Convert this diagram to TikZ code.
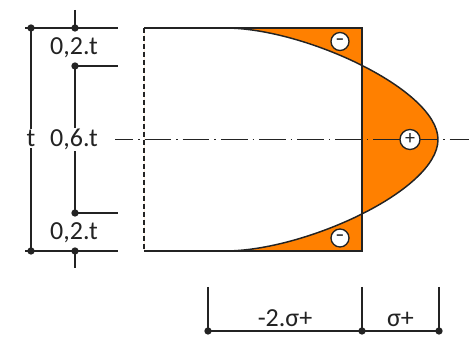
\documentclass[tikz,border=0pt]{standalone}
\usepackage{fontspec}
\setmainfont{Carlito}
\definecolor{stressorange}{RGB}{255,128,0}
\definecolor{linegray}{RGB}{35,35,35}
\begin{document}
\begin{tikzpicture}[x=0.75pt,y=-0.75pt,
  dimline/.style={draw=linegray, line width=0.9pt},
  dotmark/.style={circle, fill=linegray, inner sep=0pt, minimum size=5.5pt},
  dimlabel/.style={fill=white, inner sep=1pt, anchor=base, font=\fontsize{19.5}{21}\selectfont, text=linegray},
  edgeline/.style={draw=linegray, line width=1.1pt},
  sign/.style={circle, draw=linegray, fill=white, line width=1pt, inner sep=0pt, minimum size=13.5pt, font=\bfseries\fontsize{13}{13}\selectfont, text=linegray}]
\useasboundingbox (0,0) rectangle (469,338);

% --- section outline coordinates
\coordinate (RTL) at (144,28);
\coordinate (RTR) at (362,28);
\coordinate (RBR) at (362,251);
\coordinate (RBL) at (144,251);
\coordinate (PT) at (225,28);
\coordinate (PB) at (225,251);
\coordinate (PV) at (438,139.5);

% --- orange stress fill
\fill[stressorange, even odd rule]
  (PT) .. controls (305,28) and (438,90) .. (PV)
       .. controls (438,190) and (305,251) .. (PB) -- (RBL) -- (RTL) -- cycle
  (RTL) rectangle (RBR);

% --- centre line
\coordinate (CL1) at (115,139.5);
\coordinate (CL2) at (469,139.5);
\draw[linegray, line width=1pt, dash pattern=on 20pt off 3.75pt on 1.1pt off 3.75pt, dash phase=6.4pt] (CL1) -- (CL2);

% --- section edges
\draw[edgeline] (RBL) -- (RBR) -- (RTR) -- (RTL);
\draw[edgeline, dash pattern=on 3.75pt off 2.25pt] (RTL) -- (RBL);
\draw[linegray, line width=1.1pt]
  (PT) .. controls (305,28) and (438,90) .. (PV)
       .. controls (438,190) and (305,251) .. (PB);

% --- signs
\node[sign] (m1) at (340,41.5) {–};
\node[sign] (m2) at (340,238) {–};
\node[sign, minimum size=15pt, font=\fontsize{15}{15}\selectfont] (p1) at (410,139.5) {+};

% --- left dimensions
\coordinate (E1l) at (25,28);   \coordinate (E1r) at (118,28);
\coordinate (E2r) at (118,66);
\coordinate (E3r) at (118,213);
\coordinate (E4l) at (25,251);  \coordinate (E4r) at (118,251);
\coordinate (A1) at (31,28);    \coordinate (A2) at (31,251);
\coordinate (B0) at (75,10);    \coordinate (B1) at (75,28);
\coordinate (B2) at (75,66);    \coordinate (B3) at (75,213);
\coordinate (B4) at (75,251);   \coordinate (B5) at (75,268);

\draw[dimline] (E1l) -- (E1r);
\draw[dimline] (B2) -- (E2r);
\draw[dimline] (B3) -- (E3r);
\draw[dimline] (E4l) -- (E4r);
\draw[dimline] (A1) -- (A2);
\draw[dimline] (B0) -- (B1);
\draw[dimline] (B2) -- (B3);
\draw[dimline] (B4) -- (B5);

\node[dimlabel] (lt) at (31,146.5) {t};
\node[dimlabel] (l06) at (74,146.5) {0,6.t};
\node[dimlabel] (l02a) at (74,55) {0,2.t};
\node[dimlabel] (l02b) at (74,240) {0,2.t};

\foreach \p in {A1,A2,B1,B2,B3,B4} \node[dotmark] at (\p) {};

% --- bottom dimensions
\coordinate (C1t) at (208,287); \coordinate (C1) at (208,331);
\coordinate (C2t) at (362,287); \coordinate (C2) at (362,331);
\coordinate (C3t) at (439,287); \coordinate (C3) at (439,331);
\draw[dimline] (C1t) -- (C1);
\draw[dimline] (C2t) -- (C2);
\draw[dimline] (C3t) -- (C3);
\draw[dimline] (C1) -- (C3);
\node[dimlabel, fill=none] (lm2) at (285,327) {-2.σ+};
\node[dimlabel, fill=none] (lsp) at (400.5,327) {σ+};
\foreach \p in {C1,C2,C3} \node[dotmark] at (\p) {};
\end{tikzpicture}
\end{document}
